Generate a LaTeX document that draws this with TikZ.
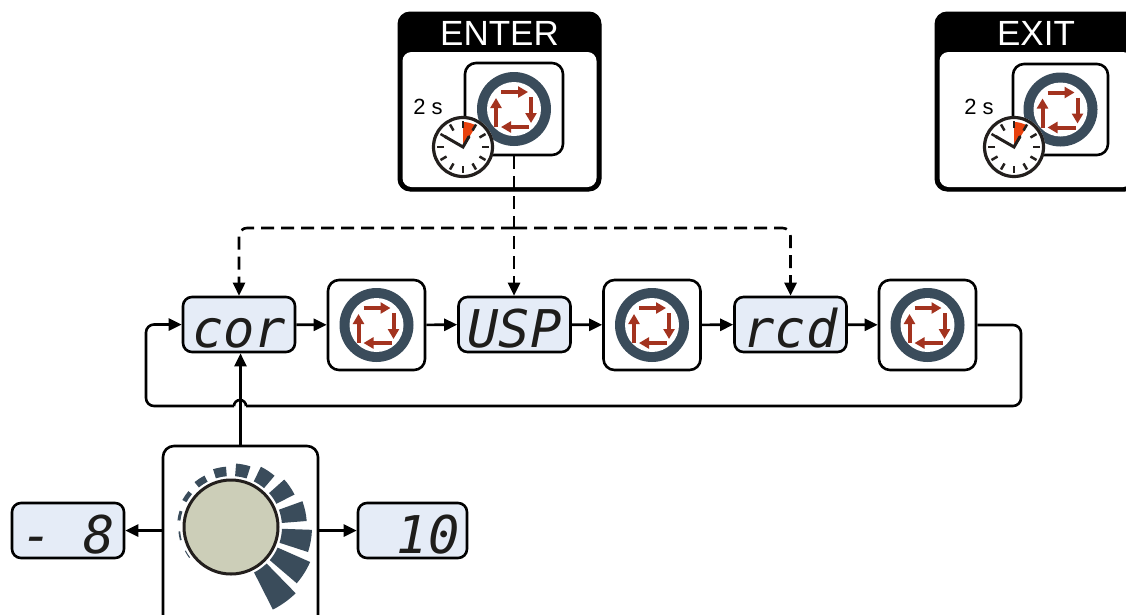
\documentclass[tikz,border=0pt]{standalone}
\usepackage{fontspec}
\setmainfont{Liberation Sans}
\newfontfamily\segfont{DejaVu Sans Mono}
\usetikzlibrary{arrows.meta,calc}
\definecolor{ringcol}{HTML}{3A4C5B}
\definecolor{arrcol}{HTML}{A3331F}
\definecolor{lcdblue}{HTML}{E5ECF7}
\definecolor{knobfill}{HTML}{CCCEB8}
\definecolor{clockred}{HTML}{E8420E}
\definecolor{segink}{HTML}{1E1D1B}
\definecolor{clockink}{HTML}{231F1D}
\tikzset{
  lcd/.style={draw=black, line width=2.6pt, rounded corners=9pt, fill=lcdblue,
    minimum width=112pt, minimum height=55pt, inner sep=0pt,
    text height=45pt, text depth=0pt, text=segink,
    font=\segfont\itshape\fontsize{52pt}{52pt}\selectfont},
  iconbox/.style={draw=black, fill=white, line width=2.6pt, rounded corners=11pt,
    minimum width=97pt, minimum height=90pt, inner sep=0pt},
  headbox/.style={draw=black, fill=black, line width=1pt, rounded corners=12pt, inner sep=0pt},
  title/.style={text=white, inner sep=0pt, font=\fontsize{35pt}{35pt}\selectfont},
  secs/.style={inner sep=0pt, font=\fontsize{22pt}{22pt}\selectfont},
  flow/.style={line width=2.6pt, -{Triangle[length=13pt,width=12pt]}},
  dashflow/.style={flow, dash pattern=on 13pt off 7pt},
  ringsym/.pic={
    \fill[ringcol] (0,0) circle[radius=37pt];
    \fill[white] (0,0) circle[radius=27pt];
    \begin{scope}[arrcol, line width=4pt, -{Triangle[length=10pt,width=11pt]}]
      \draw (-13,-17) -- (14,-17);
      \draw (17,-12) -- (17,14);
      \draw (15,18) -- (-13,18);
      \draw (-18,18) -- (-18,-11);
    \end{scope}
  },
  clocksym/.pic={
    \fill[white] (0,0) circle[radius=31pt];
    \fill[clockred] (0,0) -- (90:25pt) arc[start angle=90, end angle=58, radius=25pt] -- cycle;
    \draw[clockink, line width=3.2pt] (0,0) circle[radius=29.5pt];
    \foreach \a in {0,30,...,330} \draw[clockink, line width=2.5pt] (\a:19pt) -- (\a:26pt);
    \draw[clockink, line width=3pt, line cap=round] (150:21pt) -- (0,0) -- (60:12pt);
  }
}
\begin{document}
\begin{tikzpicture}[x=1pt,y=-1pt]
\useasboundingbox (0,0) rectangle (1126,614);
\clip (0,0) rectangle (1126,614);

% ENTER panel
\node[headbox, minimum width=203pt, minimum height=179pt] (enter) at (499.5,101.5) {};
\fill[white, rounded corners=9pt] (402.5,52) rectangle (596.5,187);
\node[title] (entertitle) at (499.5,33) {ENTER};
\node[iconbox, minimum width=98pt, minimum height=92pt] (entericon) at (514,109) {};
\pic at (entericon.center) {ringsym};
\pic at (463,147) {clocksym};
\node[secs] (entersecs) at (428,107) {2 s};

% EXIT panel
\node[headbox, minimum width=202pt, minimum height=179pt] (exit) at (1036,101.5) {};
\fill[white, rounded corners=9pt] (939.5,52) rectangle (1132,187);
\node[title] (exittitle) at (1036,33) {EXIT};
\node[iconbox, minimum width=95pt, minimum height=91pt] (exiticon) at (1060.5,109.5) {};
\pic at (exiticon.center) {ringsym};
\pic at (1014,147) {clocksym};
\node[secs] (exitsecs) at (979,107) {2 s};

% flow row
\node[lcd] (cor) at (239,324.5) {cor};
\node[iconbox] (ic1) at (376.5,325) {};
\pic at (ic1.center) {ringsym};
\node[lcd] (usp) at (514.5,324.5) {USP};
\node[iconbox] (ic2) at (652,325) {};
\pic at (ic2.center) {ringsym};
\node[lcd] (rcd) at (790.5,324.5) {rcd};
\node[iconbox] (ic3) at (927.5,325) {};
\pic at (ic3.center) {ringsym};

\draw[flow] (cor) -- (ic1);
\draw[flow] (ic1) -- (usp);
\draw[flow] (usp) -- (ic2);
\draw[flow] (ic2) -- (rcd);
\draw[flow] (rcd) -- (ic3);

% return loop
\coordinate (loopbr) at (1021,406);
\coordinate (loopbl) at (146,406);
\coordinate (hop) at (240,406);
\draw[line width=2.6pt, rounded corners=8pt] (ic3.east) -| (loopbr) -- ([xshift=6pt]hop);
\draw[line width=2.6pt] ([xshift=6pt]hop) arc[start angle=0, end angle=180, radius=6pt];
\draw[flow, rounded corners=8pt] ([xshift=-6pt]hop) -- (loopbl) |- (cor.west);

% dashed entry
\coordinate (split) at (514,228);
\draw[dashflow] (entericon.south) -- (entericon.south |- usp.north);
\draw[dashflow, rounded corners=8pt] (split) -| (cor.north);
\draw[dashflow, rounded corners=8pt] (split) -| (rcd.north);

% knob
\node[iconbox, minimum width=155pt, minimum height=194pt] (knob) at (240.5,543) {};
\draw[line width=3pt, draw=clockink, fill=knobfill] (231,527) circle[radius=47pt];
\begin{scope}[shift={(231,527)}]
  \foreach \i in {0,...,12} {
    \pgfmathsetmacro\ac{212-\i*22.2}
    \pgfmathsetmacro\hw{4.5+0.35*\i}
    \pgfmathsetlengthmacro\ro{(52+0.5*\i+0.24*\i*\i)*1pt}
    \fill[ringcol] (\ac+\hw:51pt) arc[start angle=\ac+\hw, end angle=\ac-\hw, radius=51pt]
      -- (\ac-\hw:\ro) arc[start angle=\ac-\hw, end angle=\ac+\hw, radius=\ro] -- cycle;
  }
\end{scope}
\draw[flow] (knob.north) -- (knob.north |- cor.south);

\node[lcd] (m8) at (68,530.5) {- 8};
\node[lcd, minimum width=109pt] (ten) at (412.5,530.5) {\phantom{0}10};
\draw[flow] (knob.west |- m8.east) -- (m8.east);
\draw[flow] (knob.east |- ten.west) -- (ten.west);
\end{tikzpicture}
\end{document}
